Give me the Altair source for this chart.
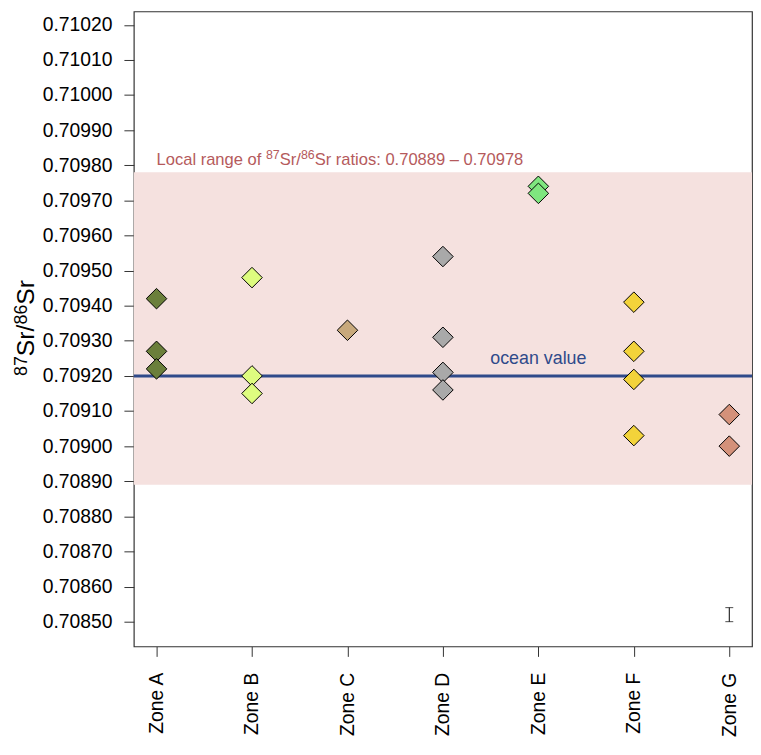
import altair as alt
import pandas as pd

# ---- data ----
zones = ["Zone A", "Zone B", "Zone C", "Zone D", "Zone E", "Zone F", "Zone G"]
zone_colors = ["#6B7F3B", "#DEFC7F", "#C8A97C", "#A9A9A9", "#7FE67F", "#F3D33A", "#D4917A"]

zone_a = [0.70942, 0.70927, 0.70922]
zone_b = [0.70948, 0.70920, 0.70915]
zone_c = [0.70933]
zone_d = [0.70954, 0.70931, 0.70921, 0.70916]
zone_e = [0.70974, 0.70972]
zone_f = [0.70941, 0.70927, 0.70919, 0.70903]
zone_g = [0.70909, 0.70900]

local_range = [0.70889, 0.70978]
ocean_value = 0.70920
error_bar = [0.70850, 0.70854]
y_ticks = [round(0.70850 + 0.0001 * i, 5) for i in range(18)]
y_domain = [0.7084294, 0.7102381]

W, H = 624, 641
FONT = "Liberation Sans"

# Arial / Liberation Sans advance widths (em) for laying out superscript pieces
ADV = {c: 0.556 for c in "0123456789aeghnopqu"}
ADV.update({" ": 0.278, ".": 0.278, ":": 0.278, "/": 0.278, "r": 0.333, "t": 0.278,
            "i": 0.222, "l": 0.222, "f": 0.278, "s": 0.5, "c": 0.5, "S": 0.667,
            "L": 0.556, "–": 0.556})


def text_width(s, size):
    return sum(ADV.get(c, 0.556) for c in s) * size


rows = []
for z, vals in zip(zones, [zone_a, zone_b, zone_c, zone_d, zone_e, zone_f, zone_g]):
    for v in vals:
        rows.append({"zone": z, "sr": v})
pts = pd.DataFrame(rows)
pts["idx"] = range(len(pts))

yscale = alt.Scale(domain=y_domain, nice=False, zero=False)
xscale = alt.Scale(type="point", domain=zones, padding=0.238)

x_axis = alt.Axis(labelAngle=270, labelFontSize=19.5, labelFont=FONT, labelColor="black",
                  tickSize=10, tickColor="#333333", labelPadding=16, domain=False,
                  title=None, labelAlign="right", labelBaseline="middle", grid=False)
y_axis = alt.Axis(values=y_ticks, format=".5f", labelFontSize=19.5, labelFont=FONT,
                  labelColor="black", tickSize=10, tickColor="#333333", labelPadding=12,
                  domain=False, grid=False, title=None)

X = alt.X("zone:N", scale=xscale, sort=zones, axis=x_axis)


def Y(field):
    return alt.Y(field, scale=yscale, axis=y_axis)


band = alt.Chart(pd.DataFrame({"lo": [local_range[0]], "hi": [local_range[1]]})).mark_rect(
    color="#F5E1DF").encode(y=Y("lo:Q"), y2="hi:Q", x=alt.value(0), x2=alt.value(W))

# band label, built from pieces so that the isotope numbers are real superscripts
BAND_MAIN, BAND_SUP = 16.7, 12.5
band_pieces = [("Local range of ", False), ("87", True), ("Sr/", False), ("86", True),
               (f"Sr ratios: {local_range[0]:.5f} – {local_range[1]:.5f}", False)]
band_df = pd.DataFrame({"zone": [zones[0]], "sr": [local_range[1]]})
band_layers = []
off = 0.0
for txt, sup in band_pieces:
    size = BAND_SUP if sup else BAND_MAIN
    band_layers.append(
        alt.Chart(band_df).mark_text(align="left", baseline="alphabetic", dx=off,
                                     dy=-13 if sup else -7, fontSize=size, font=FONT,
                                     color="#B55A5C", text=txt)
        .encode(x=X, y=Y("sr:Q")))
    off += text_width(txt, size)

ocean = alt.Chart(pd.DataFrame({"sr": [ocean_value]})).mark_rule(
    color="#2F4A8A", strokeWidth=3).encode(y=Y("sr:Q"), x=alt.value(0), x2=alt.value(W))

ocean_label = alt.Chart(pd.DataFrame({"zone": ["Zone E"], "sr": [ocean_value], "t": ["ocean value"]})).mark_text(
    align="center", baseline="alphabetic", dy=-12, fontSize=18, font=FONT, color="#2F4A8A").encode(
    x=X, y=Y("sr:Q"), text="t:N")

points = alt.Chart(pts).mark_point(shape="diamond", filled=True, size=430, stroke="black",
                                   strokeWidth=1, opacity=1).encode(
    x=X, y=Y("sr:Q"),
    fill=alt.Fill("zone:N", scale=alt.Scale(domain=zones, range=zone_colors), legend=None),
    order=alt.Order("idx:Q"))

err_df = pd.DataFrame({"zone": [zones[-1]], "lo": [error_bar[0]], "hi": [error_bar[1]]})
err_rule = alt.Chart(err_df).mark_rule(color="black", strokeWidth=1).encode(
    x=X, y=Y("lo:Q"), y2="hi:Q")
err_lo = alt.Chart(err_df).mark_tick(color="black", size=8, thickness=1).encode(x=X, y=Y("lo:Q"))
err_hi = alt.Chart(err_df).mark_tick(color="black", size=8, thickness=1).encode(x=X, y=Y("hi:Q"))

# y-axis title 87Sr/86Sr, rotated, built from pieces
T_MAIN, T_SUP = 25, 18
title_pieces = [("87", True), ("Sr/", False), ("86", True), ("Sr", False)]
t_len = sum(text_width(t, T_SUP if s else T_MAIN) for t, s in title_pieces)
ty = H / 2 - 1 + t_len / 2
title_layers = []
for txt, sup in title_pieces:
    size = T_SUP if sup else T_MAIN
    title_layers.append(
        alt.Chart(band_df).mark_text(angle=270, align="left", baseline="alphabetic",
                                     fontSize=size, font=FONT, color="black", text=txt)
        .encode(x=alt.value(-108 if sup else -101), y=alt.value(ty)))
    ty -= text_width(txt, size)

chart = alt.layer(band, *band_layers, ocean, ocean_label, points, err_rule, err_lo, err_hi,
                  *title_layers).properties(
    width=W, height=H,
    autosize=alt.AutoSizeParams(type="none"),
    padding={"left": 127, "top": 0, "right": 1, "bottom": 96},
    background="white",
).configure_view(stroke="#333333", strokeWidth=1.2)

chart.save("out.html", embed_options={"renderer": "svg", "actions": False})
